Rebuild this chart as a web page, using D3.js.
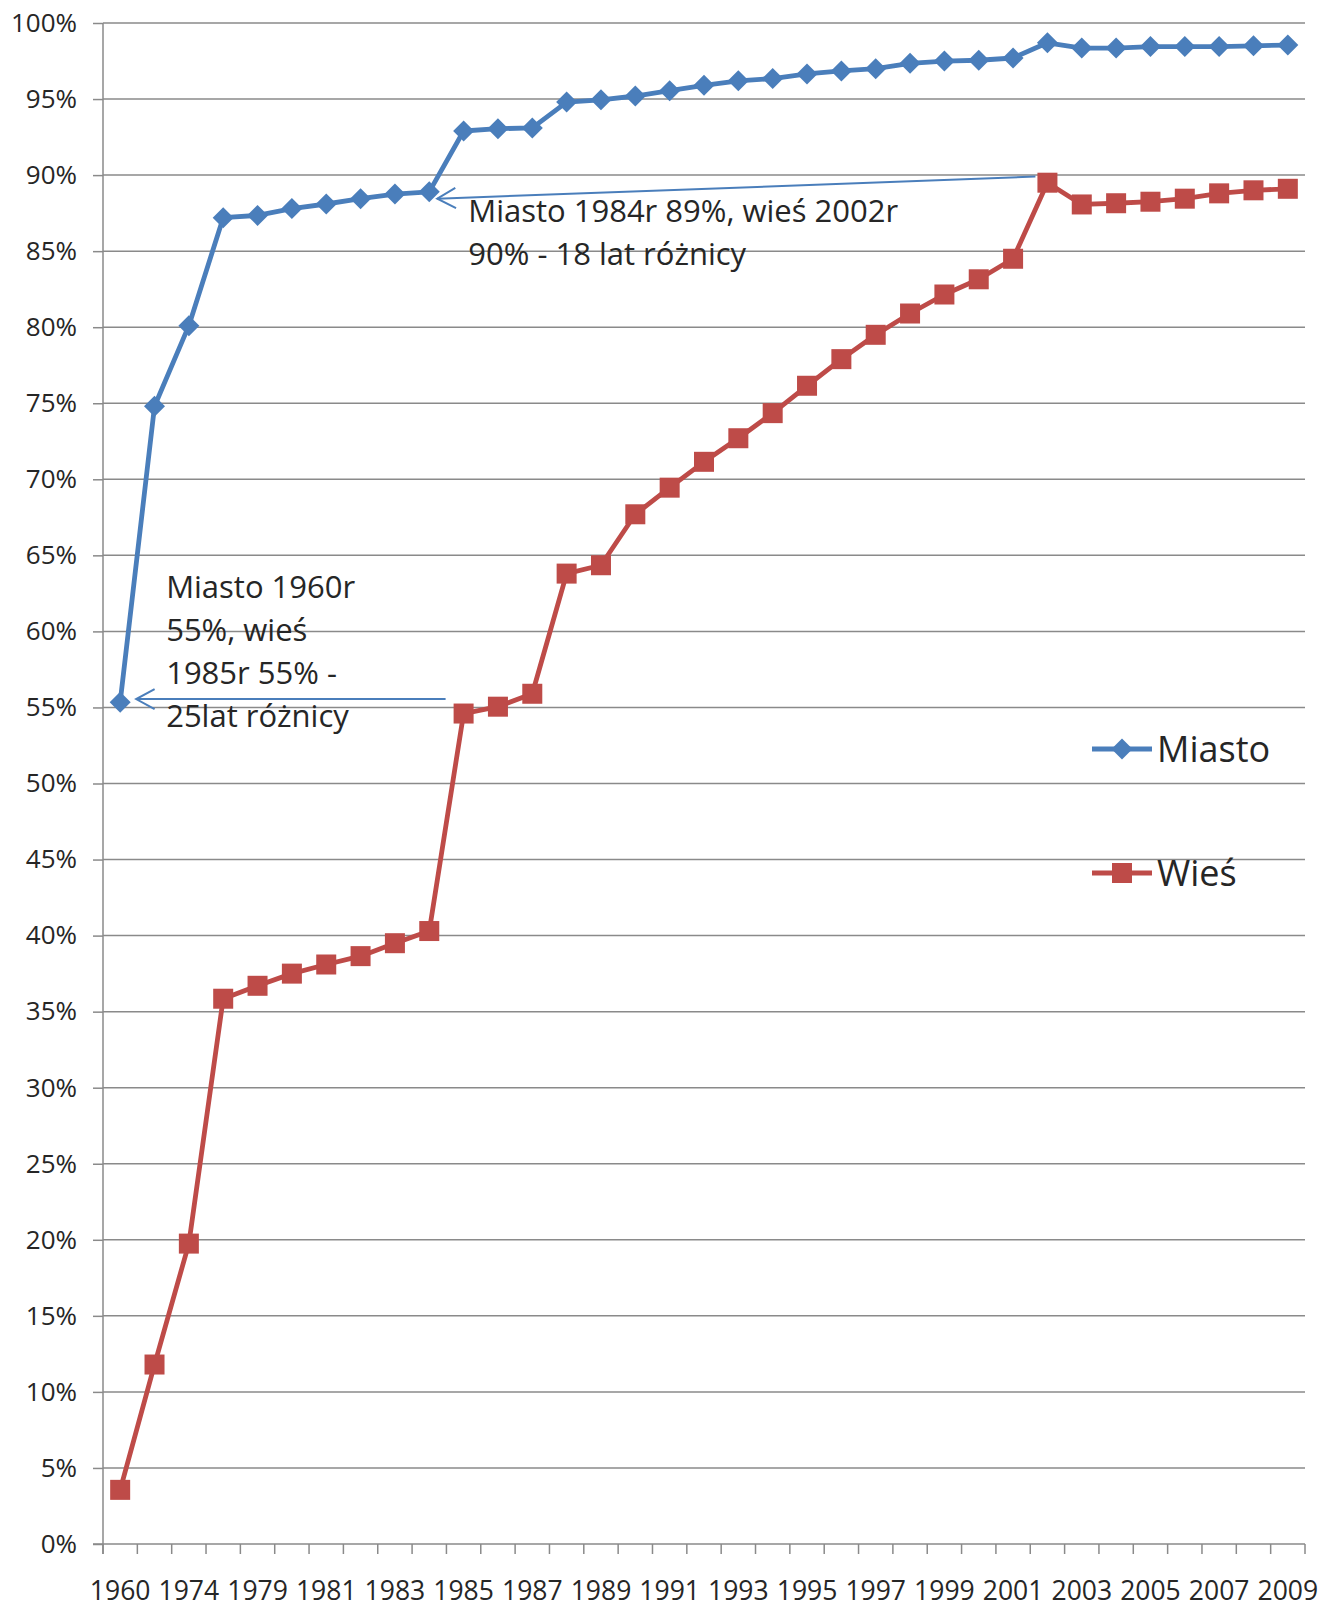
<!DOCTYPE html>
<html>
<head>
<meta charset="utf-8">
<script src="https://cdn.jsdelivr.net/npm/d3@7"></script>
<style>
  html, body { margin: 0; padding: 0; background: #ffffff; }
  svg { display: block; }
  text { font-family: "Open Sans", "Noto Sans", sans-serif; fill: #262626; }
</style>
</head>
<body>
<svg id="chart" width="1333" height="1607"></svg>
<script>
// ---- data ----
const years = ["1960","1970","1974","1978","1979","1980","1981","1982","1983","1984",
  "1985","1986","1987","1988","1989","1990","1991","1992","1993","1994",
  "1995","1996","1997","1998","1999","2000","2001","2002","2003","2004",
  "2005","2006","2007","2008","2009"];
const miasto = [55.35, 74.8, 80.1, 87.2, 87.35, 87.8, 88.1, 88.45, 88.75, 88.9,
  92.9, 93.05, 93.1, 94.8, 94.95, 95.2, 95.55, 95.9, 96.2, 96.35,
  96.65, 96.85, 97.0, 97.35, 97.5, 97.55, 97.7, 98.7, 98.35, 98.35,
  98.45, 98.45, 98.45, 98.5, 98.55];
const wies = [3.56, 11.8, 19.75, 35.85, 36.7, 37.5, 38.1, 38.65, 39.5, 40.3,
  54.6, 55.05, 55.9, 63.8, 64.35, 67.7, 69.45, 71.15, 72.7, 74.35,
  76.15, 77.9, 79.5, 80.9, 82.15, 83.15, 84.5, 89.5, 88.07, 88.15,
  88.25, 88.45, 88.8, 89.0, 89.1];
const seriesNames = ["Miasto", "Wieś"];
const yTicks = [0,5,10,15,20,25,30,35,40,45,50,55,60,65,70,75,80,85,90,95,100];
const note1 = ["Miasto 1984r 89%, wieś 2002r", "90% - 18 lat różnicy"];
const note2 = ["Miasto 1960r", "55%, wieś", "1985r 55% -", "25lat różnicy"];

(function () {
// ---- layout ----
const svg = d3.select("#chart");
const pLeft = 103, pRight = 1305, pTop = 23, pBottom = 1544;
const blue = "#4A7EBB", red = "#BE4B48", grid = "#8a8a8a";

const x = d3.scaleBand().domain(years).range([pLeft, pRight]).padding(0);
const cx = d => x(d) + x.bandwidth() / 2;
const y = d3.scaleLinear().domain([0, 100]).range([pBottom, pTop]);

// gridlines
svg.append("g").selectAll("line").data(yTicks.filter(v => v > 0)).join("line")
  .attr("x1", pLeft).attr("x2", pRight)
  .attr("y1", d => y(d)).attr("y2", d => y(d))
  .attr("stroke", grid).attr("stroke-width", 1.5);

// y axis
const yAxis = svg.append("g").attr("transform", `translate(${pLeft},0)`)
  .call(d3.axisLeft(y).tickValues(yTicks).tickSize(10).tickPadding(16)
    .tickFormat(d => d + "%"));
yAxis.select(".domain").remove();
yAxis.selectAll(".tick line").attr("stroke", grid).attr("stroke-width", 1.5);
yAxis.selectAll("text").style("font-size", "26px").attr("fill", "#262626")
  .style("font-family", '"Open Sans", sans-serif');
svg.append("line").attr("x1", pLeft).attr("x2", pLeft).attr("y1", pTop).attr("y2", pBottom + 10)
  .attr("stroke", grid).attr("stroke-width", 1.5);

// x axis
svg.append("line").attr("x1", pLeft - 10).attr("x2", pRight).attr("y1", pBottom).attr("y2", pBottom)
  .attr("stroke", grid).attr("stroke-width", 1.5);
const bounds = years.map(d => x(d)).concat([x.range()[1]]);
svg.append("g").selectAll("line").data(bounds).join("line")
  .attr("x1", d => d).attr("x2", d => d).attr("y1", pBottom).attr("y2", pBottom + 10)
  .attr("stroke", grid).attr("stroke-width", 1.5);
const xAxis = svg.append("g").attr("transform", `translate(0,${pBottom})`)
  .call(d3.axisBottom(x).tickSize(0).tickPadding(37)
    .tickFormat((d, i) => i % 2 === 0 ? d : ""));
xAxis.select(".domain").remove();
xAxis.selectAll("text").style("font-size", "26.5px").attr("fill", "#262626")
  .style("font-family", '"Open Sans", sans-serif');

// lines
const line = d3.line().x((d, i) => cx(years[i])).y(d => y(d));
svg.append("path").datum(wies).attr("d", line).attr("fill", "none")
  .attr("stroke", red).attr("stroke-width", 4.8).attr("stroke-linejoin", "round");
svg.append("path").datum(miasto).attr("d", line).attr("fill", "none")
  .attr("stroke", blue).attr("stroke-width", 4.8).attr("stroke-linejoin", "round");

// markers
const sq = 20, dm = 10.5;
svg.append("g").selectAll("rect").data(wies).join("rect")
  .attr("x", (d, i) => cx(years[i]) - sq / 2).attr("y", d => y(d) - sq / 2)
  .attr("width", sq).attr("height", sq).attr("fill", red);
svg.append("g").selectAll("path").data(miasto).join("path")
  .attr("d", (d, i) => {
    const px = cx(years[i]), py = y(d);
    return `M${px},${py - dm}L${px + dm},${py}L${px},${py + dm}L${px - dm},${py}Z`;
  }).attr("fill", blue);

// annotation arrows (anchored to data)
function arrow(x1, y1, x2, y2) {
  const g = svg.append("g").attr("stroke", blue).attr("stroke-width", 2).attr("fill", "none");
  g.append("line").attr("x1", x1).attr("y1", y1).attr("x2", x2).attr("y2", y2);
  const ang = Math.atan2(y1 - y2, x1 - x2);
  const L = 21, a = 0.5;
  g.append("path").attr("d",
    `M${x2 + L * Math.cos(ang + a)},${y2 + L * Math.sin(ang + a)}L${x2},${y2}L${x2 + L * Math.cos(ang - a)},${y2 + L * Math.sin(ang - a)}`);
}
arrow(cx("2002") - 12, y(89.9), cx("1984") + 8, y(88.45));
arrow(cx("1985") - 18, y(55.55), cx("1960") + 16, y(55.55));

// annotation texts
svg.append("g").selectAll("text").data(note1).join("text")
  .attr("x", cx("1984") + 39).attr("y", (d, i) => 222 + i * 43)
  .style("font-size", "31px").text(d => d);
svg.append("g").selectAll("text").data(note2).join("text")
  .attr("x", cx("1960") + 46).attr("y", (d, i) => 598 + i * 43)
  .style("font-size", "31px").text(d => d);

// legend
const leg = svg.append("g");
const legY = [749, 873];
const legColors = [blue, red];
seriesNames.forEach((name, i) => {
  const gy = legY[i];
  leg.append("line").attr("x1", 1092).attr("x2", 1152).attr("y1", gy).attr("y2", gy)
    .attr("stroke", legColors[i]).attr("stroke-width", 4.8);
  if (i === 0) {
    leg.append("path").attr("d", `M1122,${gy - dm}L${1122 + dm},${gy}L1122,${gy + dm}L${1122 - dm},${gy}Z`).attr("fill", blue);
  } else {
    leg.append("rect").attr("x", 1122 - sq / 2).attr("y", gy - sq / 2).attr("width", sq).attr("height", sq).attr("fill", red);
  }
  leg.append("text").attr("x", 1157).attr("y", gy + 13).style("font-size", "36px").text(name);
});
})();
</script>
</body>
</html>
